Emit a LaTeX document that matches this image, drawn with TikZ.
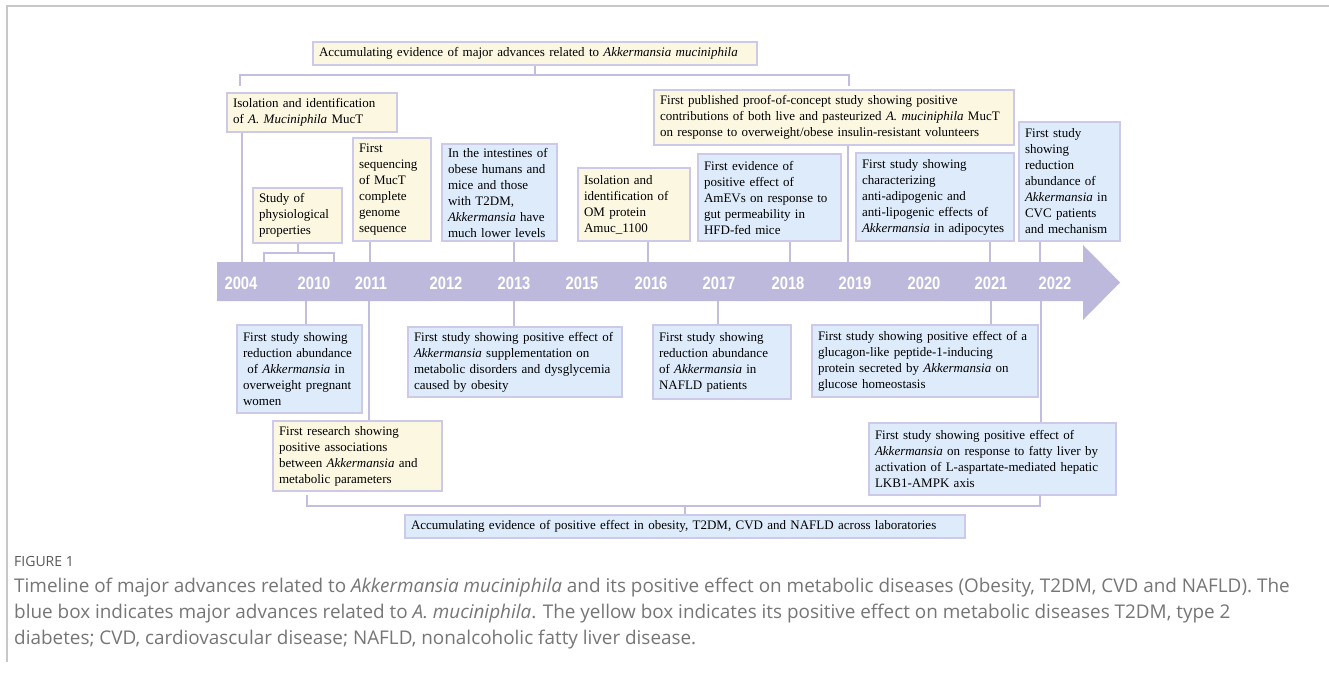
\documentclass[tikz,border=0pt]{standalone}
\usepackage{fontspec}
\setmainfont{Liberation Serif}
\newfontfamily\capfont{Open Sans}
\newfontfamily\yearfont[FakeStretch=0.82]{Liberation Sans}
\definecolor{lav}{HTML}{BDB9DC}
\definecolor{lavline}{HTML}{C2BEE0}
\definecolor{boxborder}{HTML}{CDC9E8}
\definecolor{yfill}{HTML}{FCF7E1}
\definecolor{bfill}{HTML}{DDEBFB}
\definecolor{capgray}{HTML}{767676}
\definecolor{framegray}{HTML}{C8C8C8}
\begin{document}
\begin{tikzpicture}[x=1pt,y=-1pt,
  box/.style={draw=boxborder, line width=1.2pt, inner xsep=6pt, inner ysep=2pt,
    align=left, font=\fontsize{13}{16}\selectfont},
  ybox/.style={box, fill=yfill},
  bbox/.style={box, fill=bfill},
  conn/.style={draw=lavline, line width=1.3pt},
  yearlbl/.style={text=white, inner sep=0pt, font=\yearfont\fontsize{18}{18}\bfseries\selectfont},
  captext/.style={text=capgray, inner sep=0pt, anchor=west, font=\capfont\fontsize{18.9}{22}\selectfont}]
\useasboundingbox (0,0) rectangle (1329,672);
\fill[white] (0,0) rectangle (1329,672);
\draw[framegray, line width=1.5pt] (7,662) -- (7,6) -- (1329,6);

% timeline arrow
\fill[lav] (217,262) -- (1083,262) -- (1083,245) -- (1120,282.5) -- (1083,320) -- (1083,301) -- (217,301) -- cycle;
\coordinate (tlT) at (0,262);
\coordinate (tlB) at (0,301);

% year labels
\foreach \yr/\xx in {2004/241,2010/314,2011/371,2012/446,2013/514,2015/582,2016/651,2017/719,2018/788,2019/855,2020/924,2021/991,2022/1055}
  \node[yearlbl] (y\yr) at (\xx,283) {\yr};

% connector x positions
\coordinate (kIso) at (242,0);
\coordinate (kPhys) at (298,0);
\coordinate (kPhL) at (264,0);
\coordinate (kPhR) at (334,0);
\coordinate (kSeq) at (370,0);
\coordinate (kInt) at (514,0);
\coordinate (kOM) at (648,0);
\coordinate (kProof) at (848,0);
\coordinate (kAmev) at (790,0);
\coordinate (kChar) at (990,0);
\coordinate (kCvc) at (1040,0);
\coordinate (kPreg) at (306,0);
\coordinate (kRes) at (369,0);
\coordinate (kSup) at (514,0);
\coordinate (kNaf) at (718,0);
\coordinate (kGlu) at (991,0);
\coordinate (kFat) at (1041,0);

% top summary box and bracket
\node[ybox, minimum width=444pt, minimum height=23pt, text width=432pt] (top) at (535,53.5)
  {Accumulating evidence of major advances related to \textit{Akkermansia muciniphila}};
\coordinate (brT) at (0,75);
\draw[conn] (240,86) -- (240,75) -- (849,75) -- (849,86);
\draw[conn] (top.south) -- (top.south |- brT);

% upper boxes
\node[ybox, minimum width=170pt, minimum height=39pt, text width=158pt] (iso) at (312,112.5)
  {Isolation and identification\\of \textit{A. Muciniphila} MucT};
\node[ybox, minimum width=89pt, minimum height=55pt, text width=77pt] (phys) at (297.5,215.5)
  {Study of\\physiological\\properties};
\node[ybox, minimum width=78pt, minimum height=103pt, text width=66pt] (seq) at (392,189.5)
  {First\\sequencing\\of MucT\\complete\\genome\\sequence};
\node[bbox, minimum width=115pt, minimum height=97pt, text width=103pt] (int) at (499.5,192.5)
  {In the intestines of\\obese humans and\\mice and those\\with T2DM,\\\textit{Akkermansia} have\\much lower levels};
\node[ybox, minimum width=112pt, minimum height=73pt, text width=100pt] (om) at (634,204.5)
  {Isolation and\\identification of\\OM protein\\Amuc\_1100};
\node[ybox, minimum width=360pt, minimum height=55pt, text width=348pt] (proof) at (834,117.5)
  {First published proof-of-concept study showing positive\\contributions of both live and pasteurized \textit{A. muciniphila} MucT\\on response to overweight/obese insulin-resistant volunteers};
\node[bbox, minimum width=143pt, minimum height=87pt, text width=131pt] (amev) at (769.5,197.5)
  {First evidence of\\positive effect of\\AmEVs on response to\\gut permeability in\\HFD-fed mice};
\node[bbox, minimum width=158pt, minimum height=88pt, text width=146pt] (char) at (935,197)
  {First study showing\\characterizing\\anti-adipogenic and\\anti-lipogenic effects of\\\textit{Akkermansia} in adipocytes};
\node[bbox, minimum width=101pt, minimum height=119pt, text width=89pt] (cvc) at (1069.5,181.5)
  {First study\\showing\\reduction\\abundance of\\\textit{Akkermansia} in\\CVC patients\\and mechanism};

% lower boxes
\node[bbox, minimum width=125pt, minimum height=88pt, text width=113pt] (preg) at (299.5,369)
  {First study showing\\reduction abundance\\\ of \textit{Akkermansia} in\\overweight pregnant\\women};
\node[ybox, minimum width=169pt, minimum height=70pt, text width=157pt] (res) at (357.5,456)
  {First research showing\\positive associations\\between \textit{Akkermansia} and\\metabolic parameters};
\node[bbox, minimum width=214pt, minimum height=70pt, text width=202pt] (sup) at (515,362)
  {First study showing positive effect of\\\textit{Akkermansia} supplementation on\\metabolic disorders and dysglycemia\\caused by obesity};
\node[bbox, minimum width=138pt, minimum height=74pt, text width=126pt] (naf) at (722,362)
  {First study showing\\reduction abundance\\of \textit{Akkermansia} in\\NAFLD patients};
\node[bbox, minimum width=226pt, minimum height=72pt, text width=214pt] (glu) at (925,361)
  {First study showing positive effect of a\\glucagon-like peptide-1-inducing\\protein secreted by \textit{Akkermansia} on\\glucose homeostasis};
\node[bbox, minimum width=247pt, minimum height=72pt, text width=235pt] (fat) at (992.5,459)
  {First study showing positive effect of\\\textit{Akkermansia} on response to fatty liver by\\activation of L-aspartate-mediated hepatic\\LKB1-AMPK axis};

% bottom summary box and bracket
\node[bbox, minimum width=560pt, minimum height=23pt, text width=548pt] (bot) at (685,526.5)
  {Accumulating evidence of positive effect in obesity, T2DM, CVD and NAFLD across laboratories};
\coordinate (brB) at (0,506);
\draw[conn] (307,495) -- (307,506) -- (1040,506) -- (1040,495);
\draw[conn] (bot.north) -- (bot.north |- brB);

% connectors above the timeline
\draw[conn] (iso.south -| kIso) -- (kIso |- tlT);
\coordinate (phB) at (0,253);
\draw[conn] (phys.south -| kPhys) -- (kPhys |- phB);
\draw[conn] (kPhL |- tlT) -- (kPhL |- phB) -- (kPhR |- phB) -- (kPhR |- tlT);
\draw[conn] (seq.south -| kSeq) -- (kSeq |- tlT);
\draw[conn] (int.south -| kInt) -- (kInt |- tlT);
\draw[conn] (om.south -| kOM) -- (kOM |- tlT);
\draw[conn] (proof.south -| kProof) -- (kProof |- tlT);
\draw[conn] (amev.south -| kAmev) -- (kAmev |- tlT);
\draw[conn] (char.south -| kChar) -- (kChar |- tlT);
\draw[conn] (cvc.south -| kCvc) -- (kCvc |- tlT);

% connectors below the timeline
\draw[conn] (kPreg |- tlB) -- (preg.north -| kPreg);
\draw[conn] (kRes |- tlB) -- (res.north -| kRes);
\draw[conn] (kSup |- tlB) -- (sup.north -| kSup);
\draw[conn] (kNaf |- tlB) -- (naf.north -| kNaf);
\draw[conn] (kGlu |- tlB) -- (glu.north -| kGlu);
\draw[conn] (kFat |- tlB) -- (fat.north -| kFat);

% caption
\node[captext, text=black!65, font=\capfont\fontsize{14}{16}\selectfont] (figlbl) at (14,561) {FIGURE 1};
\node[captext] (cap1) at (14,588) {Timeline of major advances related to \textit{Akkermansia muciniphila} and its positive effect on metabolic diseases (Obesity, T2DM, CVD and NAFLD). The};
\node[captext] (cap2) at (14,614) {blue box indicates major advances related to \textit{A. muciniphila}. The yellow box indicates its positive effect on metabolic diseases T2DM, type 2};
\node[captext] (cap3) at (14,640) {diabetes; CVD, cardiovascular disease; NAFLD, nonalcoholic fatty liver disease.};
\end{tikzpicture}
\end{document}
